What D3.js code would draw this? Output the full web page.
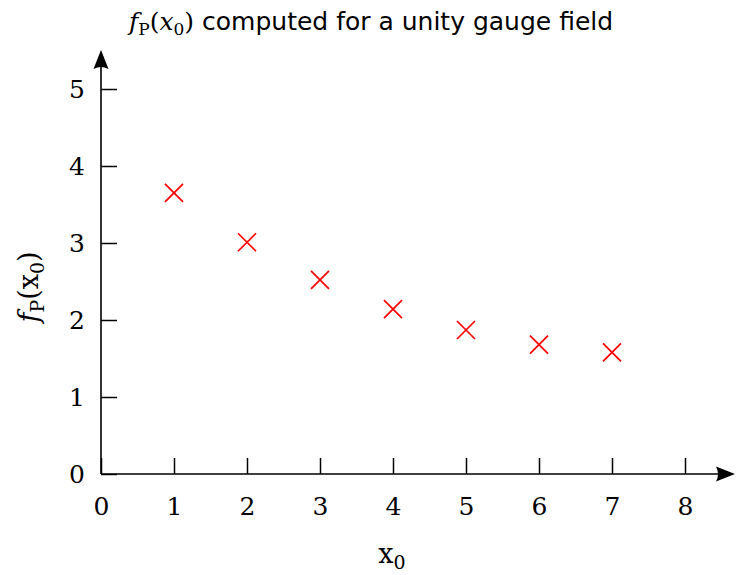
<!DOCTYPE html>
<html>
<head>
<meta charset="utf-8">
<script src="https://cdn.jsdelivr.net/npm/d3@7"></script>
<style>
  body { margin: 0; background: #fff; }
  svg { display: block; }
  .tick text { font-family: "DejaVu Serif", serif; font-size: 25px; fill: #000; }
  .tick line { stroke: #000; stroke-width: 1.5; }
</style>
</head>
<body>
<div id="chart"></div>
<script>
'use strict';

// data
var xValues = [1, 2, 3, 4, 5, 6, 7];
var fpValues = [3.65, 3.01, 2.52, 2.14, 1.87, 1.68, 1.58];
var xTicks = [0, 1, 2, 3, 4, 5, 6, 7, 8];
var yTicks = [0, 1, 2, 3, 4, 5];

var width = 737, height = 575;

var svg = d3.select('#chart').append('svg')
    .attr('width', width)
    .attr('height', height);

var x = d3.scaleLinear().domain([0, 8]).range([101, 685]);
var y = d3.scaleLinear().domain([0, 5]).range([474, 89]);

// axes, ticks point inward
var xAxis = d3.axisBottom(x).tickValues(xTicks).tickSize(-16).tickPadding(23).tickFormat(d3.format('d'));
var yAxis = d3.axisLeft(y).tickValues(yTicks).tickSize(-16).tickPadding(16).tickFormat(d3.format('d'));

var gx = svg.append('g').attr('transform', 'translate(0,' + y(0) + ')').call(xAxis);
var gy = svg.append('g').attr('transform', 'translate(' + x(0) + ',0)').call(yAxis);
gx.select('.domain').remove();
gy.select('.domain').remove();

// axis lines with arrow heads
var xEnd = 735, yEnd = 50;
svg.append('line')
    .attr('x1', x(0)).attr('y1', y(0)).attr('x2', xEnd - 8).attr('y2', y(0))
    .attr('stroke', '#000').attr('stroke-width', 1.6);
svg.append('line')
    .attr('x1', x(0)).attr('y1', y(0)).attr('x2', x(0)).attr('y2', yEnd + 8)
    .attr('stroke', '#000').attr('stroke-width', 1.6);

svg.append('path')
    .attr('d', 'M' + xEnd + ',' + y(0) + ' L' + (xEnd - 19) + ',' + (y(0) - 7.5) +
        ' Q' + (xEnd - 15) + ',' + y(0) + ' ' + (xEnd - 19) + ',' + (y(0) + 7.5) + ' Z')
    .attr('fill', '#000');
svg.append('path')
    .attr('d', 'M' + x(0) + ',' + yEnd + ' L' + (x(0) - 7.5) + ',' + (yEnd + 19) +
        ' Q' + x(0) + ',' + (yEnd + 15) + ' ' + (x(0) + 7.5) + ',' + (yEnd + 19) + ' Z')
    .attr('fill', '#000');

// cross markers
var s = 9;
svg.append('g').selectAll('path')
    .data(xValues.map(function (d, i) { return { x: d, y: fpValues[i] }; }))
    .enter().append('path')
    .attr('d', function (d) {
        var cx = x(d.x), cy = y(d.y);
        return 'M' + (cx - s) + ',' + (cy - s) + 'L' + (cx + s) + ',' + (cy + s) +
            'M' + (cx - s) + ',' + (cy + s) + 'L' + (cx + s) + ',' + (cy - s);
    })
    .attr('stroke', '#ff0000')
    .attr('stroke-width', 1.7)
    .attr('fill', 'none');

// title
var title = svg.append('text')
    .attr('x', 371).attr('y', 30)
    .attr('text-anchor', 'middle')
    .style('font-size', '25px');
title.append('tspan').attr('font-family', 'DejaVu Serif').attr('font-style', 'italic').text('f');
title.append('tspan').attr('font-family', 'DejaVu Serif').attr('font-size', '17px').attr('dy', 5).text('P');
title.append('tspan').attr('font-family', 'DejaVu Serif').attr('dy', -5).text('(');
title.append('tspan').attr('font-family', 'DejaVu Serif').attr('font-style', 'italic').text('x');
title.append('tspan').attr('font-family', 'DejaVu Serif').attr('font-size', '17px').attr('dy', 5).text('0');
title.append('tspan').attr('font-family', 'DejaVu Serif').attr('dy', -5).text(')');
title.append('tspan').attr('font-family', 'DejaVu Sans').text(' computed for a unity gauge field');

// x label
var xl = svg.append('text')
    .attr('x', 392).attr('y', 563)
    .attr('text-anchor', 'middle')
    .attr('font-family', 'DejaVu Serif')
    .style('font-size', '27px');
xl.append('tspan').text('x');
xl.append('tspan').attr('font-size', '19px').attr('dy', 6).text('0');

// y label
var yl = svg.append('text')
    .attr('transform', 'translate(38,' + 287 + ') rotate(-90)')
    .attr('text-anchor', 'middle')
    .attr('font-family', 'DejaVu Serif')
    .style('font-size', '27px');
yl.append('tspan').attr('font-style', 'italic').text('f');
yl.append('tspan').attr('font-size', '19px').attr('dy', 6).text('P');
yl.append('tspan').attr('dy', -6).text('(x');
yl.append('tspan').attr('font-size', '19px').attr('dy', 6).text('0');
yl.append('tspan').attr('dy', -6).text(')');
</script>
</body>
</html>
